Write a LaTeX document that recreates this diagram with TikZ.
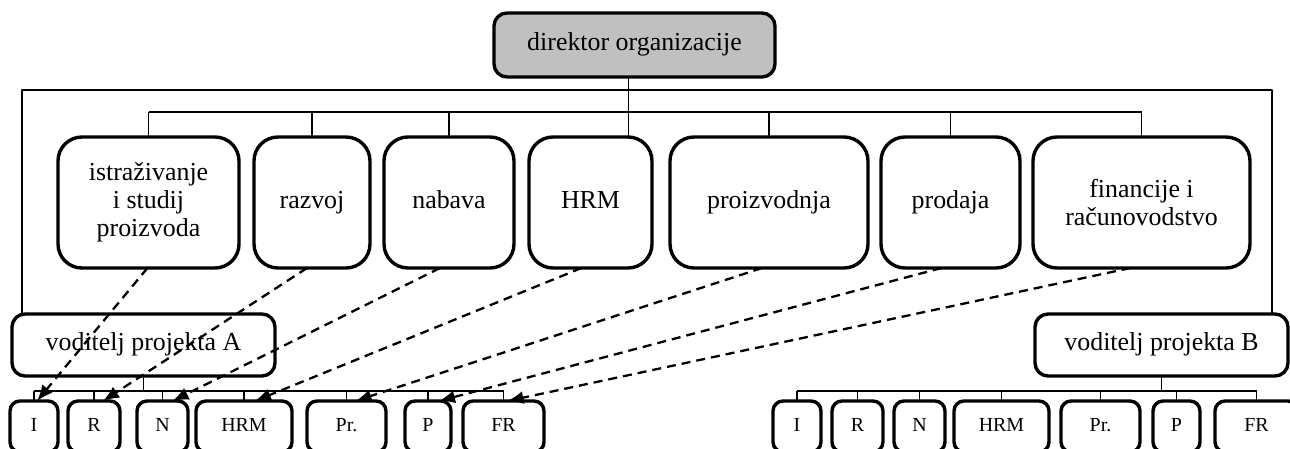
\documentclass[tikz,border=0pt]{standalone}
\usepackage{fontspec}
\setmainfont{Liberation Serif}
\usetikzlibrary{arrows.meta}
\definecolor{chiefgray}{RGB}{192,192,192}
\begin{document}
\begin{tikzpicture}[>={Latex[length=16bp,width=13bp]},line join=bevel,
  unitbox/.style={draw,line width=3.4bp,inner sep=0pt,outer sep=0pt,align=center,font=\fontsize{26}{28}\selectfont},
  oneline/.style={text height=18bp,text depth=6bp},
  chief/.style={unitbox,oneline,fill=chiefgray,rounded corners=13bp,minimum height=64bp},
  dept/.style={unitbox,rounded corners=24bp,minimum height=131bp},
  lead/.style={unitbox,oneline,rounded corners=13bp,minimum height=62bp},
  team/.style={unitbox,rounded corners=10bp,minimum height=51bp,font=\fontsize{20}{22}\selectfont,text height=14bp,text depth=4bp},
  link/.style={line width=1.6bp},
  duty/.style={->,dash pattern=on 9bp off 6bp,line width=2.3bp}]
\useasboundingbox (0bp,0bp) rectangle (1290bp,449bp);
\fill [white] (0bp,0bp) rectangle (1290bp,449bp);
%%
\node (director) at (634.5bp,404bp) [chief,minimum width=281bp] {direktor organizacije};
  \node (istr) at (148.5bp,246.5bp) [dept,minimum width=181bp] {istraživanje\\i studij\\proizvoda};
  \node (razv) at (312bp,246.5bp) [dept,oneline,minimum width=116bp] {razvoj};
  \node (nab) at (449bp,246.5bp) [dept,oneline,minimum width=130bp] {nabava};
  \node (hrm) at (590.5bp,246.5bp) [dept,oneline,minimum width=123bp] {HRM};
  \node (proizv) at (769bp,246.5bp) [dept,oneline,minimum width=198bp] {proizvodnja};
  \node (prod) at (950.5bp,246.5bp) [dept,oneline,minimum width=139bp] {prodaja};
  \node (fin) at (1141.5bp,246.5bp) [dept,minimum width=217bp] {financije i\\računovodstvo};
  \node (vodA) at (143.5bp,104bp) [lead,minimum width=263bp] {voditelj projekta A};
  \node (vodB) at (1161.5bp,104bp) [lead,minimum width=253bp] {voditelj projekta B};
%
  \node (aI) at (34bp,22.5bp) [team,minimum width=48bp] {I};
  \node (aR) at (94bp,22.5bp) [team,minimum width=52bp] {R};
  \node (aN) at (162.5bp,22.5bp) [team,minimum width=51bp] {N};
  \node (aHRM) at (244bp,22.5bp) [team,minimum width=96bp] {HRM};
  \node (aPr) at (346.5bp,22.5bp) [team,minimum width=79bp] {Pr.};
  \node (aP) at (428bp,22.5bp) [team,minimum width=46bp] {P};
  \node (aFR) at (503.5bp,22.5bp) [team,minimum width=81bp] {FR};
  \node (bI) at (797bp,22.5bp) [team,minimum width=48bp] {I};
  \node (bR) at (857.5bp,22.5bp) [team,minimum width=51bp] {R};
  \node (bN) at (919.5bp,22.5bp) [team,minimum width=51bp] {N};
  \node (bHRM) at (1001.5bp,22.5bp) [team,minimum width=95bp] {HRM};
  \node (bPr) at (1100.5bp,22.5bp) [team,minimum width=79bp] {Pr.};
  \node (bP) at (1176.5bp,22.5bp) [team,minimum width=47bp] {P};
  \node (bFR) at (1256.5bp,22.5bp) [team,minimum width=83bp] {FR};
%%
  \coordinate (dtap) at ([xshift=-6bp]director.south);
  \coordinate (bar) at (0bp,337bp);
  \coordinate (barA) at (0bp,58bp);
  \coordinate (barB) at (0bp,58bp);
  \draw [link] (dtap) -- (dtap |- hrm.north);
  \draw [link] (istr.north |- bar) -- (fin.north |- bar);
  \draw [link] (istr.north) -- (istr.north |- bar);
  \draw [link] (razv.north) -- (razv.north |- bar);
  \draw [link] (nab.north) -- (nab.north |- bar);
  \draw [link] (proizv.north) -- (proizv.north |- bar);
  \draw [link] (prod.north) -- (prod.north |- bar);
  \draw [link] (fin.north) -- (fin.north |- bar);
  \draw [link] ([xshift=10bp]vodA.north west) -- ++(0bp,224bp) -| ([xshift=-16bp]vodB.north east);
%
  \draw [link] (vodA.south) -- (vodA.south |- barA);
  \draw [link] (aI.north |- barA) -- (aFR.north |- barA);
  \draw [link] (aI.north) -- (aI.north |- barA);
  \draw [link] (aR.north) -- (aR.north |- barA);
  \draw [link] (aN.north) -- (aN.north |- barA);
  \draw [link] (aHRM.north) -- (aHRM.north |- barA);
  \draw [link] (aPr.north) -- (aPr.north |- barA);
  \draw [link] (aP.north) -- (aP.north |- barA);
  \draw [link] (aFR.north) -- (aFR.north |- barA);
  \draw [link] (vodB.south) -- (vodB.south |- barB);
  \draw [link] (bI.north |- barB) -- (bFR.north |- barB);
  \draw [link] (bI.north) -- (bI.north |- barB);
  \draw [link] (bR.north) -- (bR.north |- barB);
  \draw [link] (bN.north) -- (bN.north |- barB);
  \draw [link] (bHRM.north) -- (bHRM.north |- barB);
  \draw [link] (bPr.north) -- (bPr.north |- barB);
  \draw [link] (bP.north) -- (bP.north |- barB);
  \draw [link] (bFR.north) -- (bFR.north |- barB);
%
  \draw [duty] ([xshift=-1bp]istr.south) -- ([xshift=3bp]aI.north);
  \draw [duty] ([xshift=-5bp]razv.south) -- ([xshift=9bp]aR.north);
  \draw [duty] ([xshift=-9bp]nab.south) -- ([xshift=10bp]aN.north);
  \draw [duty] ([xshift=-9bp]hrm.south) -- ([xshift=11bp]aHRM.north);
  \draw [duty] ([xshift=-7bp]proizv.south) -- ([xshift=9bp]aPr.north);
  \draw [duty] ([xshift=-9bp]prod.south) -- ([xshift=11bp]aP.north);
  \draw [duty] ([xshift=-11bp]fin.south) -- ([xshift=4bp]aFR.north);
%
\end{tikzpicture}
\end{document}
